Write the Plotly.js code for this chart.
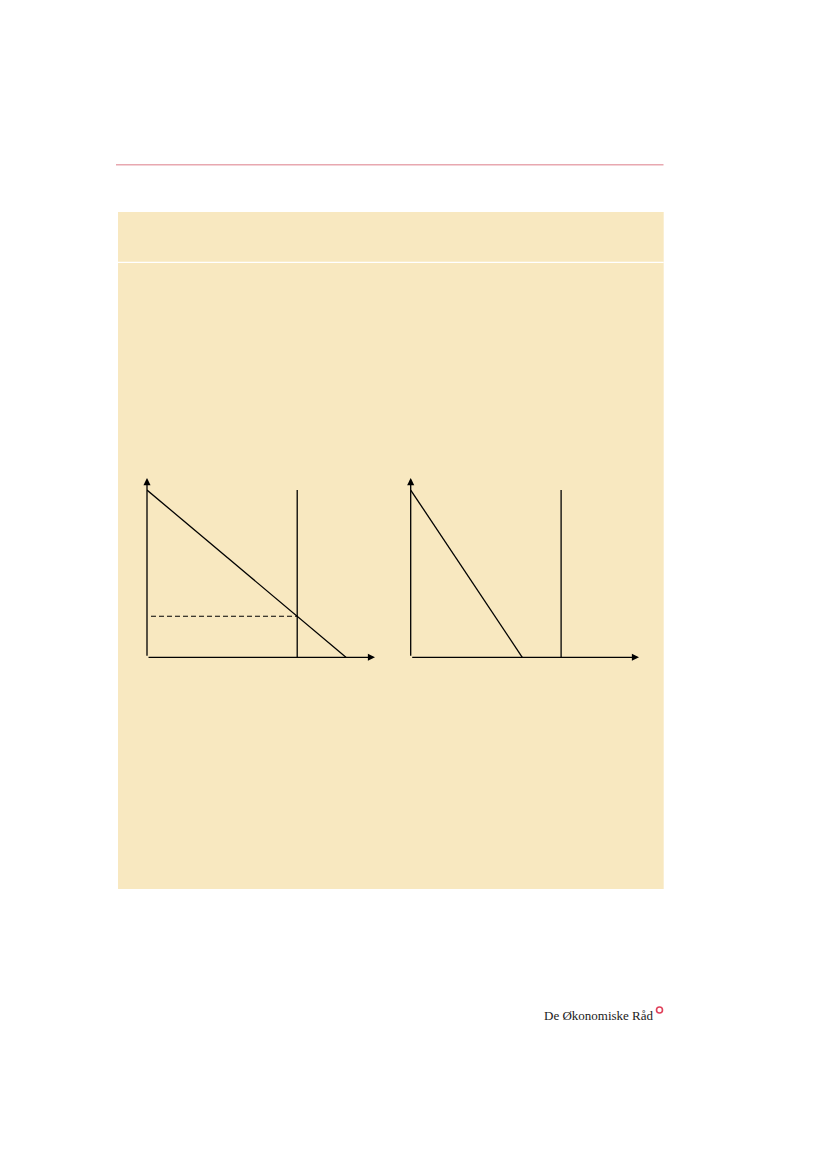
<!DOCTYPE html>
<html>
<head>
<meta charset="utf-8">
<script src="https://cdn.plot.ly/plotly-3.0.1.min.js"></script>
<style>
  html, body { margin: 0; padding: 0; background: #ffffff; }
  #chart { width: 827px; height: 1169px; }
</style>
</head>
<body>
<div id="chart"></div>
<script>
// left panel: falling line, vertical limit and dashed level
var leftLineX = [0, 10];
var leftLineY = [10, 0];
var leftLimitX = [7.55, 7.55];
var leftLimitY = [0, 10];
var leftLevelX = [0.2, 7.55];
var leftLevelY = [2.45, 2.45];

// right panel: steeper line, vertical limit
var rightLineX = [0, 5.6];
var rightLineY = [10, 0];
var rightLimitX = [7.55, 7.55];
var rightLimitY = [0, 10];

var xMax = 11.46;
var yMax = 10.72;

var W = 827, H = 1169;
var BEIGE = "#f8e8c0";
var PINK = "#e8a8b0";

function px(v) { return v / W; }
function py(v) { return 1 - v / H; }

var solid = {color: "#000000", width: 1.3};

var data = [
        {x: leftLineX, y: leftLineY, xaxis: "x", yaxis: "y", mode: "lines", line: solid, hoverinfo: "skip"},
        {x: leftLimitX, y: leftLimitY, xaxis: "x", yaxis: "y", mode: "lines", line: solid, hoverinfo: "skip"},
        {x: leftLevelX, y: leftLevelY, xaxis: "x", yaxis: "y", mode: "lines",
         line: {color: "#000000", width: 1.1, dash: "5px,3px"}, hoverinfo: "skip"},
        {x: rightLineX, y: rightLineY, xaxis: "x2", yaxis: "y2", mode: "lines", line: solid, hoverinfo: "skip"},
        {x: rightLimitX, y: rightLimitY, xaxis: "x2", yaxis: "y2", mode: "lines", line: solid, hoverinfo: "skip"}
];

function axis(dom, max, anchor) {
        return {
                domain: dom, range: [0, max], anchor: anchor,
                showgrid: false, zeroline: false, showticklabels: false,
                ticks: "", showline: false, fixedrange: true
        };
}

// arrow-headed axes, from origin to the end of each axis
function arrow(xr, yr, x, y) {
        return {
                xref: xr, yref: yr, x: x, y: y, ax: 0, ay: 0,
                axref: xr, ayref: yr, text: "", showarrow: true,
                arrowhead: 2, arrowsize: 1.1, arrowwidth: 1.3, arrowcolor: "#000000"
        };
}

var layout = {
        width: W, height: H,
        margin: {l: 0, r: 0, t: 0, b: 0},
        paper_bgcolor: "#ffffff",
        plot_bgcolor: "rgba(0,0,0,0)",
        showlegend: false,
        xaxis: axis([px(147), px(375)], xMax, "y"),
        yaxis: axis([py(657.3), py(478)], yMax, "x"),
        xaxis2: axis([px(410.7), px(639)], xMax, "y2"),
        yaxis2: axis([py(657.3), py(478)], yMax, "x2"),
        shapes: [
                {type: "line", xref: "paper", yref: "paper", layer: "below",
                 x0: px(116), x1: px(663.5), y0: py(164.7), y1: py(164.7),
                 line: {color: PINK, width: 1.4}},
                {type: "rect", xref: "paper", yref: "paper", layer: "below",
                 x0: px(118), x1: px(663.7), y0: py(212), y1: py(889),
                 fillcolor: BEIGE, line: {width: 0}},
                {type: "line", xref: "paper", yref: "paper", layer: "below",
                 x0: px(118), x1: px(663.7), y0: py(262.3), y1: py(262.3),
                 line: {color: "#ffffff", width: 1.2}},
                {type: "circle", xref: "paper", yref: "paper",
                 x0: px(656.5), x1: px(662.5), y0: py(1013), y1: py(1007),
                 fillcolor: "rgba(0,0,0,0)", line: {color: "#e0405a", width: 1.6}}
        ],
        annotations: [
                arrow("x", "y", 0, yMax),
                arrow("x", "y", xMax, 0),
                arrow("x2", "y2", 0, yMax),
                arrow("x2", "y2", xMax, 0),
                {xref: "paper", yref: "paper", x: px(656), y: py(1025),
                 xanchor: "right", yanchor: "bottom", showarrow: false,
                 text: "De Økonomiske Råd",
                 font: {family: "Liberation Serif", size: 13, color: "#1a1a1a"}}
        ]
};

Plotly.newPlot("chart", data, layout, {staticPlot: true});
</script>
</body>
</html>
